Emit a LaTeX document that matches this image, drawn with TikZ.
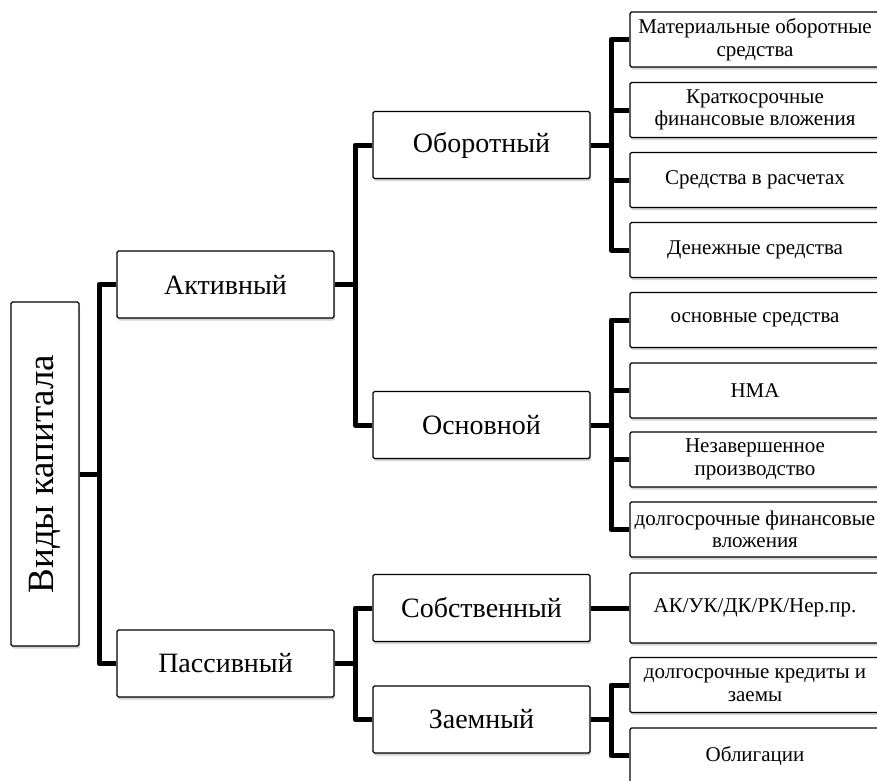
\documentclass[tikz,border=0pt]{standalone}
\usepackage{fontspec}
\setmainfont{Liberation Serif}
\usetikzlibrary{shadows}
\begin{document}
\begin{tikzpicture}[x=1pt,y=-1pt,
  box/.style={draw=black, line width=1.3pt, fill=white, rounded corners=1.5pt, inner sep=0pt,
    drop shadow={shadow xshift=1pt, shadow yshift=-2.5pt, opacity=0.35, fill=gray}, align=center},
  big/.style={box, minimum width=217pt, minimum height=67pt, font=\fontsize{28}{32}\selectfont},
  leaf/.style={box, minimum width=250pt, minimum height=55pt, font=\fontsize{21}{22.5}\selectfont},
  conn/.style={line width=5pt, line cap=butt, line join=round}]
\useasboundingbox (0,0) rectangle (877,780);
\node[box, minimum width=68pt, minimum height=344pt] (root) at (45,474) {};
\node[rotate=90, font=\fontsize{37}{40}\selectfont] (roottext) at (root.center) {Виды капитала};
\node[big] (act) at (225.5,284.5) {Активный};
\node[big] (pas) at (225.5,663.5) {Пассивный};
\node[big] (obor) at (481.5,145) {Оборотный};
\node[big] (osn) at (481.5,425) {Основной};
\node[big] (sob) at (481.5,608) {Собственный};
\node[big] (zaem) at (481.5,719.5) {Заемный};
\node[leaf] (l1) at (755,39.5) {Материальные оборотные\\средства};
\node[leaf] (l2) at (755,110) {Краткосрочные\\финансовые вложения};
\node[leaf] (l3) at (755,180) {Средства в расчетах};
\node[leaf] (l4) at (755,250) {Денежные средства};
\node[leaf] (l5) at (755,320) {основные средства};
\node[leaf] (l6) at (755,390.5) {НМА};
\node[leaf] (l7) at (755,459.5) {Незавершенное\\производство};
\node[leaf] (l8) at (755,529.5) {долгосрочные финансовые\\вложения};
\node[leaf, minimum height=70pt] (l9) at (755,608) {АК/УК/ДК/РК/Нер.пр.};
\node[leaf] (l10) at (755,685) {долгосрочные кредиты и\\заемы};
\node[leaf] (l11) at (755,755.5) {Облигации};
% connectors
\coordinate (v0) at (99,474);
\draw[conn] (root.east |- v0) -- (v0);
\draw[conn] (act.west) -| (v0) |- (pas.west);
\coordinate (v1) at (355,284.5);
\draw[conn] (act.east) -- (v1);
\draw[conn] (obor.west) -| (v1) |- (osn.west);
\coordinate (v2) at (355,663.5);
\draw[conn] (pas.east) -- (v2);
\draw[conn] (sob.west) -| (v2) |- (zaem.west);
\coordinate (v3) at (611,145);
\draw[conn] (obor.east) -- (v3);
\draw[conn] (l1.west) -| (v3) |- (l4.west);
\draw[conn] (l2.west) -- (l2.west -| v3);
\draw[conn] (l3.west) -- (l3.west -| v3);
\coordinate (v4) at (611,425);
\draw[conn] (osn.east) -- (v4);
\draw[conn] (l5.west) -| (v4) |- (l8.west);
\draw[conn] (l6.west) -- (l6.west -| v4);
\draw[conn] (l7.west) -- (l7.west -| v4);
\draw[conn] (sob.east) -- (l9.west);
\coordinate (v5) at (611,719.5);
\draw[conn] (zaem.east) -- (v5);
\draw[conn] (l10.west) -| (v5) |- (l11.west);
\end{tikzpicture}
\end{document}
